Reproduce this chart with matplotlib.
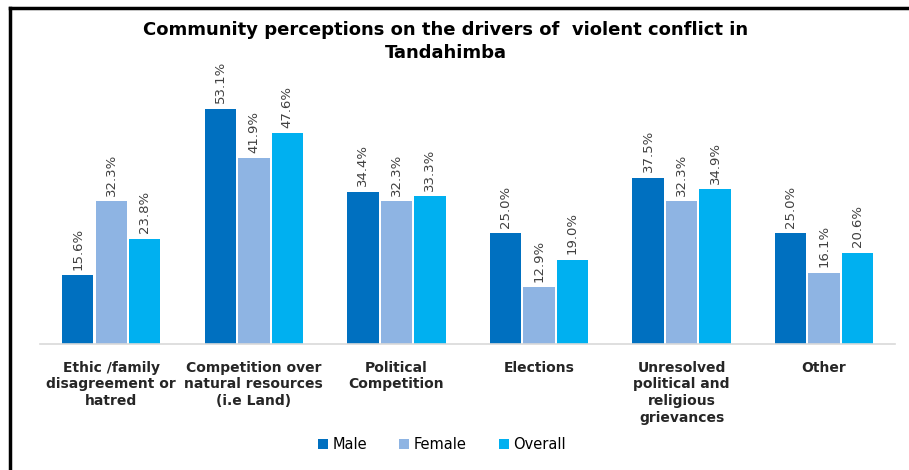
import matplotlib.pyplot as plt
import numpy as np
from matplotlib.lines import Line2D

categories = [
    "Ethic /family\ndisagreement or\nhatred",
    "Competition over\nnatural resources\n(i.e Land)",
    "Political\nCompetition",
    "Elections",
    "Unresolved\npolitical and\nreligious\ngrievances",
    "Other",
]
male = [15.6, 53.1, 34.4, 25.0, 37.5, 25.0]
female = [32.3, 41.9, 32.3, 12.9, 32.3, 16.1]
overall = [23.8, 47.6, 33.3, 19.0, 34.9, 20.6]

series = [("Male", male, "#0070C0"), ("Female", female, "#8EB4E3"), ("Overall", overall, "#00B0F0")]

fig = plt.figure(figsize=(9.09, 4.70), dpi=100)
ax = fig.add_axes([0.044, 0.268, 0.941, 0.566])

x = np.arange(len(categories))
width = 0.22
step = 0.235
for i, (name, vals, color) in enumerate(series):
    pos = x + (i - 1) * step
    bars = ax.bar(pos, vals, width, color=color, label=name)
    for b, v in zip(bars, vals):
        ax.text(b.get_x() + b.get_width() / 2, v + 1.2, f"{v:.1f}%",
                rotation=90, ha="center", va="bottom", fontsize=9.5, color="#404040")

ax.set_xlim(-0.5, len(categories) - 0.5)
ax.set_ylim(0, 60)
ax.set_yticks([])
ax.set_xticks(x)
ax.set_xticklabels(categories, fontsize=10, fontweight="bold", color="#262626", linespacing=1.25)
ax.tick_params(axis="x", length=0, pad=12)
for s in ["top", "right", "left"]:
    ax.spines[s].set_visible(False)
ax.spines["bottom"].set_color("#D9D9D9")
ax.spines["bottom"].set_linewidth(1.2)

fig.text(0.49, 0.912, "Community perceptions on the drivers of  violent conflict in\nTandahimba",
         ha="center", va="center", fontsize=13, fontweight="bold", color="black", linespacing=1.4)

ax.legend(loc="upper center", bbox_to_anchor=(0.47, -0.3), ncol=3, frameon=False,
          fontsize=10.5, handlelength=0.7, handleheight=0.7, handletextpad=0.3, columnspacing=2.2)

# chart frame (top and left edges)
fig.add_artist(Line2D([0.0105, 1.0], [0.983, 0.983], color="black", lw=2.5, transform=fig.transFigure))
fig.add_artist(Line2D([0.0105, 0.0105], [0.0, 0.983], color="black", lw=2.5, transform=fig.transFigure))

fig.savefig("out.png", dpi=100)
